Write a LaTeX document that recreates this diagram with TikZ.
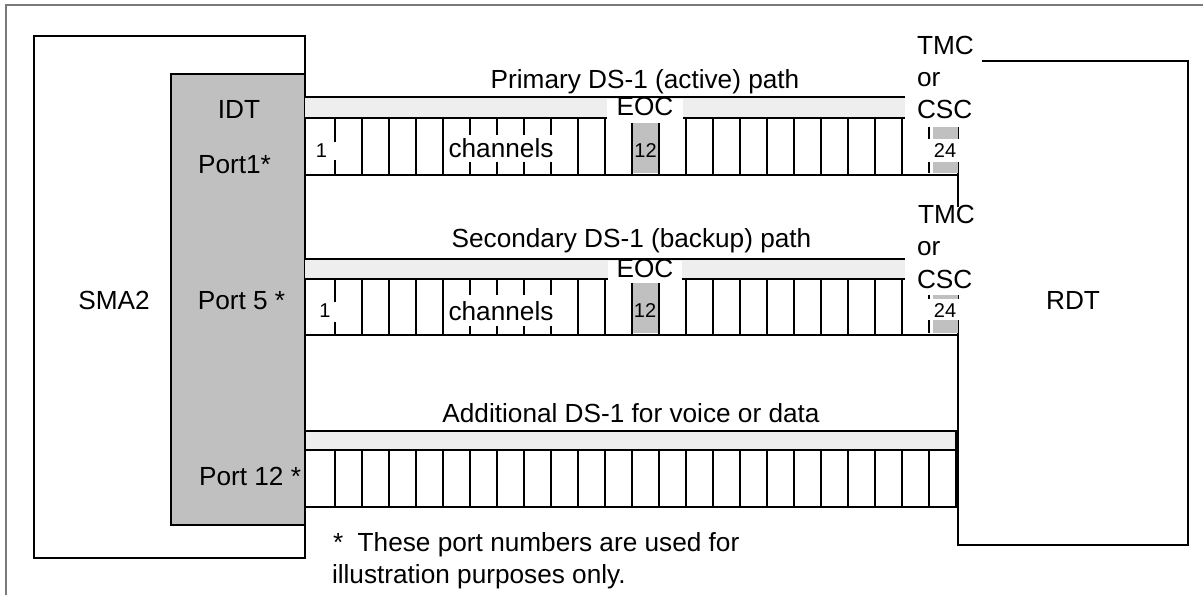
\documentclass[tikz,border=0pt]{standalone}
\usepackage{fontspec}
\setmainfont{Liberation Sans}
\definecolor{framegray}{HTML}{7A7A7A}
\definecolor{idtgray}{HTML}{C0C0C0}
\definecolor{slotgray}{HTML}{C0C0C0}
\definecolor{barfill}{HTML}{EEEEEE}
\begin{document}
\begin{tikzpicture}[x=0.5pt,y=-0.5pt,line width=1pt,
  lbl/.style={font=\fontsize{13.1}{16}\selectfont,inner sep=0pt,anchor=base},
  lblw/.style={font=\fontsize{13.1}{16}\selectfont,inner sep=0pt,anchor=base west},
  num/.style={font=\fontsize{10}{11}\selectfont,inner sep=0pt,anchor=base},
  cover/.style={fill=white,draw=none},
  slotfill/.style={fill=slotgray,draw=none},
  barstyle/.style={fill=barfill,draw=none}]
\useasboundingbox (0,0) rectangle (1203,595);
% outer frame (top and left only)
\draw[framegray] (6,595) -- (6,4.5) -- (1203,4.5);
% SMA2 and IDT
\draw[fill=white] (34,35.5) rectangle (305,558);
\draw[fill=idtgray] (171,74) rectangle (305,525);
% RDT
\draw (958,61) rectangle (1188,545);
% rows 1 and 2 (T = bar top, M = bar bottom, B = strip bottom)
\foreach \T/\M/\B in {97/118/175, 259/279/335}{
  \fill[barstyle] (305,\T) rectangle (958,\M);
  \draw (305,\T) -- (958,\T);
  \draw (305,\M) -- (958,\M);
  \draw (305,\B) -- (958,\B);
  \fill[slotfill] (633,\M) rectangle (659,{\B-2.5});
  \fill[slotfill] (933,\M) rectangle (958,{\B-2.5});
  \foreach \i in {0,...,21}{
    \draw ({335+27*\i},\M) -- ({335+27*\i},\B);
  }
  \draw (929,\M) -- (929,{\B-2.5});
}
% row 3
\draw[fill=barfill] (305,431) rectangle (956,450);
\draw (305,450) rectangle (956,507);
\foreach \i in {0,...,22}{
  \draw ({335+27*\i},450) -- ({335+27*\i},507);
}
% covers and labels row 1
\fill[cover] (308,142) rectangle (338,160);
\node[num] (oneA) at (321.5,157) {1};
\fill[cover] (445,135) rectangle (558,162);
\node[lbl] (chA) at (501,157) {channels};
\fill[cover] (607,98.5) rectangle (683,123);
\node[lbl] (eocA) at (645,115.5) {EOC};
\node[num] (twelveA) at (645.5,157) {12};
\fill[cover] (905,28) rectangle (982,127);
\node[lblw] (tmcA) at (916,54) {TMC};
\node[lblw] (orA) at (916,86) {or};
\node[lblw] (cscA) at (916,118) {CSC};
\fill[cover] (927,139) rectangle (961,161.5);
\node[num] (tfA) at (945,157) {24};
% covers and labels row 2
\fill[cover] (308,302) rectangle (338,322);
\node[num] (oneB) at (325,317) {1};
\fill[cover] (445,295) rectangle (558,326);
\node[lbl] (chB) at (501,320) {channels};
\fill[cover] (608,260.5) rectangle (682,283);
\node[lbl] (eocB) at (645,277) {EOC};
\node[num] (twelveB) at (645,317) {12};
\fill[cover] (905,207) rectangle (982,295);
\node[lblw] (tmcB) at (917,223) {TMC};
\node[lblw] (orB) at (916,255) {or};
\node[lblw] (cscB) at (916,288) {CSC};
\fill[cover] (927,299) rectangle (961,320);
\node[num] (tfB) at (945,317) {24};
% titles
\node[lbl] (tPrim) at (645,88) {Primary DS-1 (active) path};
\node[lbl] (tSec) at (631.5,247) {Secondary DS-1 (backup) path};
\node[lbl] (tAdd) at (631,422) {Additional DS-1 for voice or data};
% box labels
\node[lbl] (idt) at (239,118) {IDT};
\node[lbl] (p1) at (234.5,173) {Port1*};
\node[lbl] (p5) at (241.5,309) {Port 5 *};
\node[lbl] (p12) at (250,485) {Port 12 *};
\node[lbl] (sma) at (114,309) {SMA2};
\node[lbl] (rdt) at (1073,309) {RDT};
% footnote
\node[lblw] (fnA) at (332,551) {*~~These port numbers are used for};
\node[lblw] (fnB) at (331,583) {illustration purposes only.};
\end{tikzpicture}
\end{document}
